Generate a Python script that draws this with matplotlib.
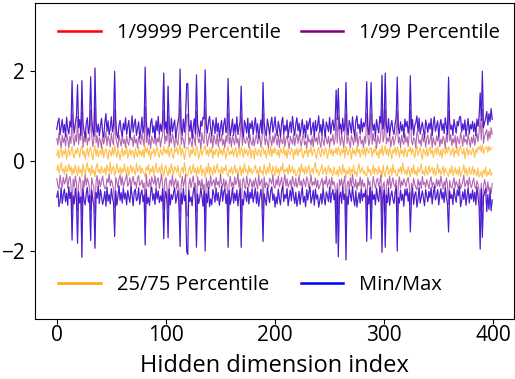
import numpy as np
import matplotlib
matplotlib.use("Agg")
import matplotlib.pyplot as plt

# values are given in hundredths
max_h = [
70, 86, 95, 58, 77, 92, 63, 81, 54, 97, 72, 60, 88, 75, 178, 90, 62, 83, 99, 169,
74, 92, 57, 178, 86, 66, 52, 84, 96, 61, 79, 187, 94, 68, 55, 206, 88, 64, 82, 56,
78, 95, 63, 53, 85, 105, 66, 89, 58, 74, 98, 65, 81, 199, 91, 60, 51, 79, 90, 67,
55, 84, 69, 96, 59, 76, 90, 52, 71, 100, 64, 83, 93, 57, 72, 87, 50, 68, 97, 62,
80, 208, 91, 58, 73, 53, 85, 94, 63, 78, 51, 89, 67, 99, 59, 82, 66, 92, 195, 70,
87, 61, 166, 83, 55, 95, 65, 79, 91, 52, 70, 86, 100, 204, 76, 57, 93, 64, 98, 171,
172, 82, 66, 90, 50, 75, 94, 60, 191, 84, 69, 54, 89, 77, 97, 93, 202, 81, 62, 87,
99, 71, 55, 91, 79, 61, 96, 65, 84, 53, 74, 90, 58, 81, 95, 63, 78, 183, 88, 56,
73, 93, 57, 82, 64, 98, 59, 76, 87, 166, 68, 54, 90, 79, 62, 95, 51, 84, 72, 89,
58, 80, 96, 63, 83, 50, 72, 91, 61, 174, 86, 66, 55, 93, 77, 59, 82, 97, 64, 78,
98, 69, 56, 88, 74, 53, 85, 97, 60, 79, 67, 91, 52, 75, 87, 63, 99, 73, 57, 82,
96, 67, 84, 55, 76, 92, 61, 80, 51, 89, 70, 83, 95, 58, 74, 86, 54, 90, 66, 79,
100, 63, 81, 56, 93, 72, 54, 87, 77, 65, 97, 60, 80, 91, 68, 85, 157, 92, 161, 71,
82, 59, 95, 66, 84, 174, 75, 57, 90, 79, 62, 98, 70, 55, 88, 100, 72, 81, 60, 94,
65, 85, 76, 91, 176, 78, 58, 96, 174, 86, 68, 82, 54, 92, 75, 62, 99, 84, 190, 71,
89, 195, 80, 63, 94, 56, 77, 90, 69, 59, 83, 97, 186, 74, 61, 87, 67, 81, 53, 93,
76, 88, 62, 82, 189, 70, 92, 57, 78, 85, 100, 65, 95, 60, 75, 86, 68, 52, 91, 79,
63, 84, 71, 94, 56, 81, 98, 66, 77, 89, 54, 79, 92, 68, 83, 61, 96, 76, 59, 186,
86, 70, 80, 57, 92, 75, 62, 88, 78, 97, 99, 64, 83, 69, 91, 55, 78, 94, 60, 81,
71, 88, 65, 84, 56, 93, 77, 99, 151, 90, 199, 74, 84, 95, 110, 80, 105, 87, 116, 92]

min_h = [
-80, -66, -101, -88, -59, -94, -74, -62, -90, -71, -98, -57, -83, -69, -175, -77, -95, -60, -86, -182,
-68, -93, -79, -213, -61, -87, -97, -72, -58, -91, -76, -176, -64, -85, -99, -193, -70, -82, -56, -94,
-63, -78, -96, -85, -67, -100, -58, -89, -74, -95, -61, -81, -92, -167, -66, -98, -79, -55, -87, -70,
-93, -60, -84, -71, -97, -65, -80, -91, -57, -76, -99, -68, -62, -88, -83, -59, -96, -73, -64, -90,
-75, -186, -63, -94, -81, -98, -69, -58, -87, -72, -96, -60, -84, -66, -92, -77, -89, -61, -172, -83,
-67, -91, -170, -62, -97, -74, -85, -70, -59, -93, -80, -65, -102, -189, -71, -95, -60, -88, -76, -200,
-207, -64, -90, -79, -99, -68, -57, -86, -191, -73, -94, -82, -61, -77, -100, -66, -199, -72, -92, -58,
-101, -84, -97, -63, -75, -91, -60, -87, -70, -98, -79, -56, -89, -68, -62, -94, -73, -191, -65, -96,
-82, -59, -93, -71, -88, -64, -99, -77, -61, -191, -85, -97, -66, -74, -90, -58, -95, -69, -83, -62,
-91, -76, -60, -94, -68, -100, -81, -63, -89, -178, -72, -86, -98, -59, -78, -92, -67, -57, -87, -73,
-102, -79, -95, -62, -84, -97, -66, -56, -90, -74, -83, -61, -99, -80, -64, -88, -58, -76, -94, -69,
-100, -85, -67, -96, -73, -59, -91, -78, -101, -63, -86, -70, -57, -93, -81, -65, -98, -62, -84, -75,
-102, -88, -72, -95, -60, -83, -97, -68, -77, -90, -58, -92, -74, -63, -86, -71, -182, -64, -212, -80,
-69, -94, -57, -85, -73, -219, -78, -96, -62, -75, -89, -56, -82, -99, -66, -102, -84, -70, -93, -61,
-88, -72, -79, -64, -178, -76, -95, -58, -172, -67, -85, -74, -97, -60, -80, -90, -56, -71, -202, -83,
-65, -191, -75, -92, -59, -98, -78, -66, -84, -94, -70, -57, -199, -81, -93, -64, -87, -73, -100, -62,
-77, -61, -89, -70, -157, -83, -60, -96, -74, -68, -102, -85, -58, -93, -79, -66, -82, -99, -63, -76,
-90, -67, -81, -59, -95, -72, -56, -86, -78, -63, -97, -75, -61, -84, -69, -92, -58, -80, -94, -157,
-66, -83, -74, -96, -60, -79, -91, -64, -77, -57, -101, -88, -68, -85, -62, -98, -76, -59, -93, -72,
-84, -64, -90, -69, -97, -58, -78, -101, -195, -62, -169, -80, -70, -61, -112, -74, -107, -66, -110, -86]

p99_hi_h = [
50, 36, 62, 44, 30, 57, 41, 53, 33, 60, 47, 29, 55, 39, 105, 49, 34, 58, 43, 98,
37, 61, 46, 108, 31, 54, 42, 63, 35, 51, 45, 112, 59, 32, 48, 118, 40, 56, 30, 52,
44, 28, 58, 38, 50, 65, 34, 55, 47, 31, 62, 43, 36, 115, 53, 41, 29, 57, 45, 33,
60, 39, 48, 30, 56, 42, 35, 64, 46, 52, 32, 58, 40, 49, 29, 54, 44, 37, 61, 47,
33, 120, 41, 59, 36, 50, 28, 55, 45, 39, 63, 34, 51, 42, 57, 31, 48, 60, 112, 38,
56, 44, 100, 32, 53, 40, 61, 47, 30, 58, 42, 35, 65, 118, 37, 54, 46, 29, 59, 102,
104, 36, 52, 43, 31, 60, 48, 34, 110, 57, 41, 50, 28, 63, 45, 39, 116, 55, 33, 49,
62, 40, 54, 30, 58, 46, 37, 61, 32, 51, 44, 59, 35, 48, 29, 56, 42, 106, 38, 53,
31, 57, 45, 36, 62, 40, 50, 28, 55, 100, 34, 60, 43, 39, 53, 47, 30, 58, 41, 35,
54, 33, 49, 61, 38, 44, 57, 31, 46, 104, 59, 36, 52, 42, 29, 63, 48, 34, 56, 40,
62, 47, 35, 58, 30, 53, 43, 38, 60, 32, 49, 56, 41, 28, 55, 45, 37, 61, 34, 51,
60, 39, 57, 46, 33, 50, 62, 36, 44, 29, 58, 42, 48, 35, 54, 31, 59, 43, 52, 37,
63, 41, 30, 56, 45, 34, 61, 48, 38, 55, 32, 50, 44, 59, 36, 47, 96, 40, 99, 53,
35, 58, 46, 31, 62, 104, 39, 54, 43, 29, 57, 48, 36, 60, 42, 64, 33, 51, 56, 38,
47, 30, 55, 40, 106, 58, 34, 49, 104, 37, 61, 44, 52, 28, 57, 45, 39, 62, 112, 42,
56, 115, 38, 51, 43, 60, 31, 46, 55, 35, 48, 59, 110, 40, 53, 30, 57, 44, 37, 61,
41, 54, 32, 59, 112, 45, 36, 52, 48, 29, 64, 57, 39, 47, 33, 60, 43, 55, 31, 50,
58, 37, 46, 62, 30, 53, 41, 35, 56, 44, 60, 32, 49, 38, 55, 47, 28, 61, 42, 110,
45, 59, 34, 50, 40, 57, 29, 54, 46, 38, 63, 51, 33, 58, 42, 48, 36, 60, 44, 31,
53, 40, 58, 35, 49, 61, 43, 64, 92, 47, 116, 39, 55, 62, 70, 45, 66, 50, 74, 59]

p99_lo_h = [
-39, -55, -62, -31, -48, -58, -36, -51, -44, -29, -60, -42, -34, -53, -108, -40, -57, -33, -49, -110,
-52, -35, -46, -120, -43, -59, -30, -54, -38, -47, -61, -108, -37, -50, -56, -115, -45, -32, -58, -41,
-57, -44, -33, -52, -61, -60, -39, -48, -28, -55, -42, -50, -63, -104, -36, -46, -59, -40, -31, -53,
-35, -58, -47, -41, -29, -56, -50, -37, -62, -43, -34, -52, -46, -60, -38, -32, -55, -49, -42, -59,
-48, -112, -30, -53, -57, -40, -62, -35, -45, -51, -33, -58, -41, -37, -61, -46, -29, -54, -106, -44,
-36, -60, -104, -49, -42, -55, -31, -58, -47, -39, -63, -44, -61, -114, -52, -34, -57, -45, -30, -118,
-122, -53, -38, -59, -46, -33, -56, -49, -112, -35, -54, -43, -62, -40, -64, -51, -118, -37, -58, -44,
-60, -32, -55, -47, -41, -61, -36, -53, -45, -58, -30, -50, -57, -39, -63, -43, -52, -114, -48, -34,
-56, -47, -61, -35, -52, -44, -29, -59, -41, -112, -48, -37, -55, -62, -33, -50, -57, -39, -46, -60,
-43, -58, -37, -49, -62, -31, -54, -46, -40, -106, -35, -59, -47, -53, -60, -38, -44, -51, -30, -56,
-60, -41, -53, -33, -57, -48, -36, -62, -45, -30, -55, -39, -58, -50, -42, -61, -34, -47, -56, -38,
-58, -50, -32, -54, -44, -61, -39, -47, -57, -35, -43, -60, -49, -31, -55, -46, -53, -37, -59, -42,
-62, -55, -47, -38, -60, -43, -51, -34, -58, -48, -40, -62, -36, -53, -45, -57, -108, -49, -118, -41,
-54, -39, -60, -46, -33, -122, -52, -44, -61, -37, -56, -29, -50, -58, -40, -64, -47, -55, -35, -59,
-41, -57, -49, -62, -106, -36, -53, -45, -104, -58, -34, -51, -60, -43, -38, -56, -47, -30, -116, -52,
-46, -112, -59, -40, -55, -33, -61, -48, -37, -53, -57, -42, -116, -50, -35, -60, -44, -54, -39, -47,
-57, -43, -36, -54, -96, -49, -62, -38, -51, -58, -64, -40, -55, -45, -61, -34, -52, -47, -59, -41,
-50, -61, -44, -35, -58, -47, -53, -60, -39, -55, -42, -57, -33, -49, -62, -45, -56, -37, -52, -96,
-43, -56, -60, -48, -37, -59, -45, -52, -62, -40, -61, -54, -46, -31, -57, -50, -42, -58, -36, -53,
-59, -47, -38, -55, -61, -44, -52, -64, -112, -49, -100, -57, -41, -53, -70, -46, -66, -58, -72, -50]

p75_h = [
12, 25, 6, 19, 30, 9, 22, 15, 28, 4, 18, 26, 11, 21, 32, 14, 7, 24, 17, 29,
20, 8, 27, 33, 13, 23, 5, 18, 29, 10, 25, 31, 16, 3, 22, 34, 12, 27, 9, 19,
24, 14, 31, 7, 21, 28, 16, 4, 26, 19, 11, 30, 13, 35, 22, 8, 25, 17, 2, 20,
29, 10, 23, 15, 32, 6, 18, 27, 12, 24, 20, 5, 28, 16, 9, 31, 14, 22, 11, 26,
7, 34, 19, 30, 13, 25, 4, 21, 17, 28, 10, 23, 32, 15, 8, 26, 19, 12, 33, 18,
25, 16, 32, 9, 22, 29, 13, 6, 27, 20, 31, 14, 24, 36, 11, 28, 18, 3, 23, 30,
32, 21, 8, 26, 15, 30, 19, 11, 34, 24, 5, 17, 29, 12, 22, 27, 35, 14, 25, 10,
28, 18, 31, 6, 23, 14, 27, 20, 9, 32, 16, 25, 12, 29, 19, 4, 24, 33, 13, 21,
16, 27, 10, 22, 30, 7, 19, 26, 13, 31, 23, 8, 28, 17, 25, 11, 20, 32, 6, 24,
22, 5, 29, 18, 12, 26, 20, 9, 31, 30, 15, 24, 7, 21, 28, 13, 33, 10, 27, 17,
30, 19, 13, 25, 8, 28, 21, 16, 32, 11, 24, 6, 27, 18, 14, 29, 22, 4, 26, 15,
28, 11, 26, 20, 31, 14, 7, 23, 17, 30, 9, 25, 19, 33, 12, 21, 27, 15, 5, 24,
31, 17, 9, 28, 21, 13, 30, 24, 6, 19, 32, 15, 26, 10, 23, 18, 29, 14, 31, 22,
11, 25, 18, 32, 7, 33, 20, 13, 27, 22, 4, 29, 16, 24, 12, 34, 19, 26, 8, 21,
27, 14, 30, 10, 31, 23, 17, 28, 30, 9, 25, 19, 33, 13, 21, 6, 26, 16, 35, 12,
24, 34, 15, 27, 11, 29, 20, 5, 25, 18, 31, 13, 32, 22, 8, 28, 17, 24, 10, 30,
18, 9, 26, 21, 32, 14, 28, 19, 7, 25, 33, 12, 23, 30, 16, 4, 27, 20, 13, 29,
10, 23, 31, 16, 26, 8, 21, 29, 14, 33, 19, 12, 25, 6, 28, 22, 15, 31, 18, 32,
26, 13, 20, 30, 9, 24, 17, 32, 11, 27, 34, 21, 15, 28, 5, 23, 30, 12, 25, 19,
14, 29, 22, 8, 27, 18, 31, 26, 34, 20, 36, 16, 24, 30, 32, 19, 33, 23, 28, 30]

p25_h = [
-20, -8, -27, -14, -3, -23, -17, -30, -10, -25, -19, -6, -22, -12, -31, -16, -28, -9, -21, -33,
-11, -26, -18, -34, -7, -22, -29, -13, -4, -24, -16, -32, -9, -27, -20, -35, -14, -5, -25, -18,
-29, -12, -21, -26, -15, -31, -8, -19, -24, -2, -28, -17, -11, -33, -23, -6, -20, -27, -13, -30,
-16, -25, -7, -22, -29, -12, -32, -18, -9, -26, -14, -21, -31, -5, -24, -19, -10, -28, -15, -23,
-27, -36, -13, -20, -8, -30, -17, -24, -11, -33, -19, -4, -26, -22, -14, -29, -7, -21, -34, -16,
-9, -24, -33, -15, -28, -6, -21, -30, -12, -18, -25, -10, -31, -37, -20, -14, -27, -3, -23, -32,
-34, -19, -11, -29, -22, -7, -25, -16, -35, -13, -28, -20, -9, -32, -17, -24, -36, -12, -26, -5,
-30, -14, -23, -31, -10, -27, -18, -6, -24, -20, -33, -12, -28, -15, -21, -8, -29, -34, -19, -25,
-13, -30, -20, -8, -26, -17, -32, -22, -11, -33, -15, -27, -6, -23, -19, -31, -10, -25, -16, -28,
-24, -16, -9, -28, -19, -31, -12, -25, -21, -32, -7, -22, -30, -14, -26, -4, -20, -29, -11, -23,
-32, -10, -26, -17, -31, -13, -22, -5, -28, -19, -24, -15, -30, -8, -25, -21, -11, -27, -18, -33,
-30, -21, -14, -32, -6, -24, -17, -29, -12, -27, -20, -9, -31, -23, -16, -28, -13, -3, -25, -19,
-33, -25, -18, -8, -29, -22, -14, -31, -20, -10, -27, -16, -24, -33, -12, -26, -30, -19, -34, -11,
-23, -30, -7, -26, -17, -36, -21, -28, -13, -32, -18, -25, -9, -29, -22, -35, -15, -6, -27, -20,
-14, -28, -22, -31, -33, -11, -25, -18, -32, -24, -8, -29, -16, -21, -30, -12, -26, -20, -36, -9,
-27, -35, -19, -10, -30, -23, -15, -32, -7, -26, -20, -31, -34, -17, -24, -13, -29, -4, -22, -28,
-19, -31, -12, -24, -34, -16, -27, -8, -30, -21, -33, -14, -25, -19, -6, -28, -22, -32, -11, -26,
-31, -9, -25, -20, -13, -29, -17, -33, -22, -6, -27, -18, -30, -24, -11, -32, -15, -23, -28, -34,
-17, -27, -10, -32, -23, -14, -29, -19, -31, -12, -35, -25, -21, -8, -28, -16, -33, -24, -13, -30,
-25, -12, -30, -18, -26, -33, -15, -35, -31, -22, -37, -20, -28, -13, -34, -24, -30, -17, -32, -27]

# 1/9999 percentiles sit almost on top of min/max
p9999_hi_h = max_h
p9999_lo_h = min_h

labels = ["1/9999 Percentile", "25/75 Percentile", "1/99 Percentile", "Min/Max"]
xticks = [0, 100, 200, 300, 400]
yticks = [-2, 0, 2]

plt.rcParams['font.family'] = ['Open Sans', 'DejaVu Sans']

fig = plt.figure(figsize=(5.15, 3.79), dpi=100)
ax = fig.add_axes([0.068, 0.158, 0.93, 0.834])

idx = np.arange(len(max_h))
def v(a):
    return np.asarray(a) / 100.0

lw = 0.8
l1, = ax.plot(idx, v(p9999_hi_h), color='red', lw=lw, alpha=0.5, label=labels[0])
ax.plot(idx, v(p9999_lo_h), color='red', lw=lw, alpha=0.5)
l2, = ax.plot(idx, v(p75_h), color='orange', lw=lw, alpha=0.7, label=labels[1])
ax.plot(idx, v(p25_h), color='orange', lw=lw, alpha=0.7)
l3, = ax.plot(idx, v(p99_hi_h), color='purple', lw=lw, alpha=0.6, label=labels[2])
ax.plot(idx, v(p99_lo_h), color='purple', lw=lw, alpha=0.6)
l4, = ax.plot(idx, v(max_h), color='blue', lw=lw, alpha=0.75, label=labels[3])
ax.plot(idx, v(min_h), color='blue', lw=lw, alpha=0.75)

ax.set_ylim(-3.5, 3.5)
ax.set_xticks(xticks)
ax.set_yticks(yticks)
ax.tick_params(labelsize=15)
ax.tick_params(axis='x', pad=0.5)
ax.set_xlabel("Hidden dimension index", fontsize=17, labelpad=6)

leg = ax.legend(handles=[l1, l2, l3, l4], ncol=2, loc='center', bbox_to_anchor=(0.51, 0.506),
                frameon=False, fontsize=14.5, labelspacing=11.5, columnspacing=1.0,
                handlelength=2.1, handletextpad=0.8)
for h in leg.get_lines():
    h.set_alpha(1)
    h.set_linewidth(1.8)

fig.savefig("out.png", dpi=100)
